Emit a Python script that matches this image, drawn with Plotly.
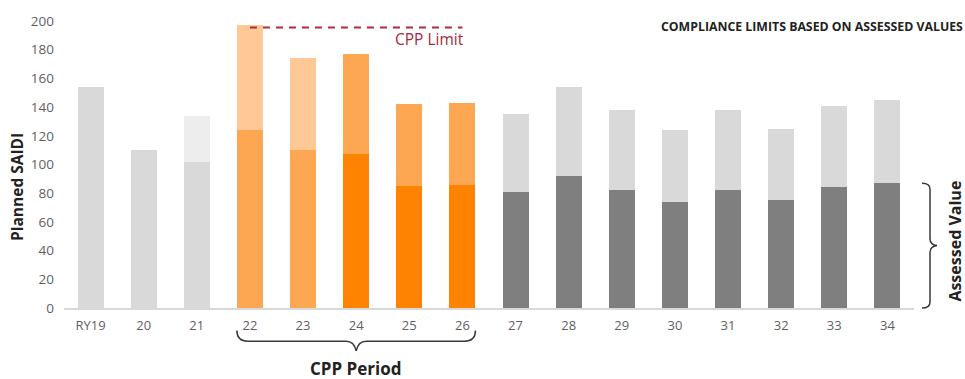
import plotly.graph_objects as go

# ---- data -------------------------------------------------------------
years = ["RY19", "20", "21", "22", "23", "24", "25", "26",
         "27", "28", "29", "30", "31", "32", "33", "34"]
planned_saidi = [154, 110, 134, 197, 174, 177, 142, 143,
                 135, 154, 138, 124, 138, 125, 141, 145]
assessed_value = [None, None, 102, 124, 110, 107, 85, 86,
                  81, 92, 82.5, 74, 82.5, 75, 84, 87]
cpp_limit = 195.5
cpp_first, cpp_last = "22", "26"

# ---- styling ------------------------------------------------------------
GREY_LIGHT = "#d9d9d9"
GREY_PALE = "#ededed"
GREY_DARK = "#7f7f7f"
OR_LIGHT = "#fec996"
OR_MID = "#fda753"
OR_DARK = "#fd8300"

planned_colors = [GREY_LIGHT, GREY_LIGHT, GREY_PALE, OR_LIGHT, OR_LIGHT,
                  OR_MID, OR_MID, OR_MID] + [GREY_LIGHT] * 8
assessed_colors = [GREY_LIGHT, GREY_LIGHT, GREY_LIGHT, OR_MID, OR_MID,
                   OR_DARK, OR_DARK, OR_DARK] + [GREY_DARK] * 8

FONT = "Open Sans"
TEXT_DARK = "#222222"
TICK_GREY = "#5f5f5f"

FIG_W, FIG_H = 965, 379
M_L, M_R, M_T, M_B = 64, 51, 14, 71
PLOT_W = FIG_W - M_L - M_R
PLOT_H = FIG_H - M_T - M_B
Y_MAX = 200
BAR_W = 0.49

idx = list(range(len(years)))
n = len(years)


# pixel <-> paper helpers for the decorations outside the plot area
def x_px(i):
    return M_L + (i + 0.5) * PLOT_W / n


def y_px(v):
    return M_T + PLOT_H * (1 - v / Y_MAX)


def to_paper(px, py):
    return f"{(px - M_L) / PLOT_W:.5f},{(M_T + PLOT_H - py) / PLOT_H:.5f}"


def path(cmds):
    out = []
    for c in cmds:
        letter, pts = c[0], c[1:]
        out.append(letter + " " + " ".join(to_paper(*p) for p in pts))
    return " ".join(out)


fig = go.Figure()

fig.add_trace(go.Bar(
    x=idx, y=planned_saidi, width=BAR_W,
    marker=dict(color=planned_colors, line=dict(width=0)),
    hoverinfo="skip", showlegend=False,
))
fig.add_trace(go.Bar(
    x=idx, y=assessed_value, width=BAR_W,
    marker=dict(color=assessed_colors, line=dict(width=0)),
    hoverinfo="skip", showlegend=False,
))

i_first, i_last = years.index(cpp_first), years.index(cpp_last)

# CPP limit dashed line
fig.add_trace(go.Scatter(
    x=[i_first, i_last], y=[cpp_limit, cpp_limit], mode="lines",
    line=dict(color="#b02a3e", width=2, dash="7px,6px"),
    hoverinfo="skip", showlegend=False,
))

# ---- braces -------------------------------------------------------------
axis_y = y_px(0)
xl = x_px(i_first) - BAR_W / 2 * PLOT_W / n
xr = x_px(i_last) + BAR_W / 2 * PLOT_W / n
xm = (xl + xr) / 2
yt, yl, yb = axis_y + 23, axis_y + 34, axis_y + 44
cpp_brace = path([
    ("M", (xl, yt)),
    ("Q", (xl, yl), (xl + 11, yl)),
    ("L", (xm - 10, yl)),
    ("Q", (xm - 2, yl), (xm, yb)),
    ("Q", (xm + 2, yl), (xm + 10, yl)),
    ("L", (xr - 11, yl)),
    ("Q", (xr, yl), (xr, yt)),
])

bx = M_L + PLOT_W + 16
top = y_px(assessed_value[-1])
bot = axis_y
mid = (top + bot) / 2
assessed_brace = path([
    ("M", (bx - 8, top)),
    ("Q", (bx, top), (bx, top + 6)),
    ("L", (bx, mid - 7)),
    ("Q", (bx, mid - 1), (bx + 7, mid)),
    ("Q", (bx, mid + 1), (bx, mid + 7)),
    ("L", (bx, bot - 6)),
    ("Q", (bx, bot), (bx - 8, bot)),
])

brace_line = dict(color="#3a3a3a", width=1.5)
shapes = [
    dict(type="path", xref="paper", yref="paper", path=cpp_brace, line=brace_line),
    dict(type="path", xref="paper", yref="paper", path=assessed_brace, line=brace_line),
]


def px_ann(text, px, py, size, bold=True, angle=0, color=TEXT_DARK,
           xanchor="center"):
    return dict(
        text=f"<b>{text}</b>" if bold else text,
        xref="paper", yref="paper",
        x=(px - M_L) / PLOT_W, y=(M_T + PLOT_H - py) / PLOT_H,
        xanchor=xanchor, yanchor="middle", showarrow=False,
        textangle=angle, font=dict(family=FONT, size=size, color=color),
    )


annotations = [
    px_ann("Planned SAIDI", 17, 184, 15.5, angle=-90),
    px_ann("Assessed Value", 955, 240, 16, angle=-90),
    px_ann("CPP Period", xm, 370, 17),
    px_ann("COMPLIANCE LIMITS BASED ON ASSESSED VALUES", 965, 20, 12.3,
           xanchor="right"),
    dict(text="CPP Limit", xref="x", yref="y", x=i_last + 0.06, y=187.5,
         xanchor="right", yanchor="middle", showarrow=False,
         font=dict(family=FONT, size=15.5, color="#a8283c")),
]

fig.update_layout(
    width=FIG_W, height=FIG_H,
    margin=dict(l=M_L, r=M_R, t=M_T, b=M_B, pad=0),
    paper_bgcolor="white", plot_bgcolor="white",
    barmode="overlay", bargap=0,
    font=dict(family=FONT, color=TICK_GREY, size=12),
    shapes=shapes, annotations=annotations,
    xaxis=dict(
        range=[-0.5, n - 0.5], tickmode="array", tickvals=idx, ticktext=years,
        showgrid=False, zeroline=False, showline=True,
        linecolor=GREY_LIGHT, linewidth=1.5, ticks="",
        tickfont=dict(family=FONT, size=13, color=TICK_GREY),
        ticklabelstandoff=5,
    ),
    yaxis=dict(
        range=[0, Y_MAX], tickmode="array", tickvals=list(range(0, 201, 20)),
        showgrid=False, zeroline=False, showline=False, ticks="",
        tickfont=dict(family=FONT, size=13.5, color=TICK_GREY),
        ticklabelstandoff=9,
    ),
)

fig.write_html("out.html")
